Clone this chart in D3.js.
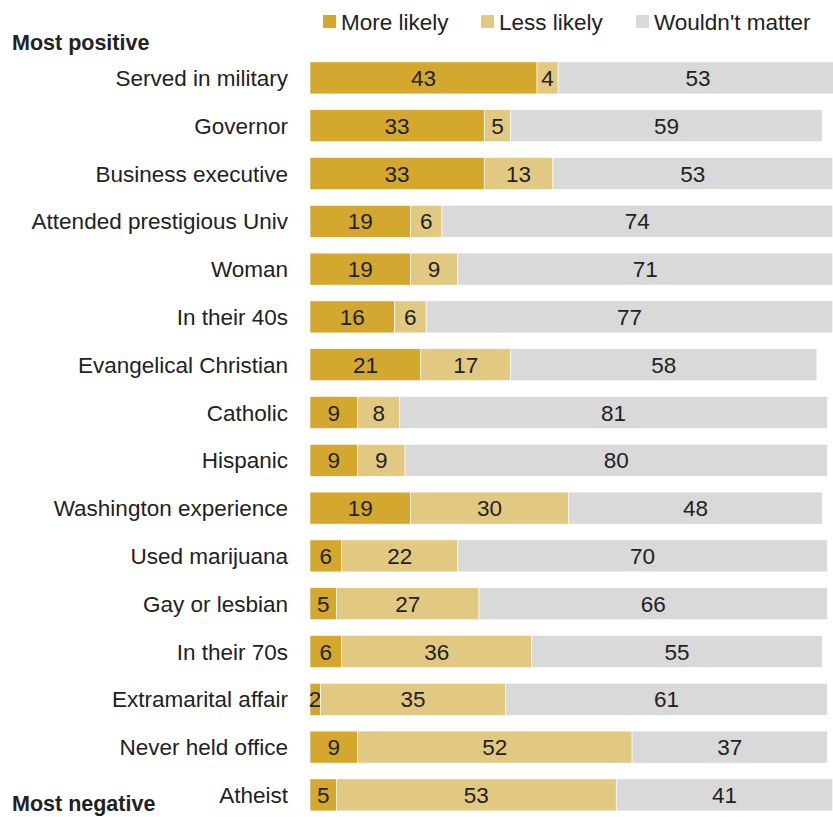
<!DOCTYPE html>
<html>
<head>
<meta charset="utf-8">
<script src="https://cdn.jsdelivr.net/npm/d3@7"></script>
<style>
  body { margin: 0; background: #fff; }
  svg text { font-family: "Liberation Sans", Arial, sans-serif; fill: #222; }
</style>
</head>
<body>
<svg id="chart" width="833" height="817"></svg>
<script>
const categories = [
    "Served in military", "Governor", "Business executive", "Attended prestigious Univ",
    "Woman", "In their 40s", "Evangelical Christian", "Catholic", "Hispanic",
    "Washington experience", "Used marijuana", "Gay or lesbian", "In their 70s",
    "Extramarital affair", "Never held office", "Atheist"
];
const moreLikely = [43, 33, 33, 19, 19, 16, 21, 9, 9, 19, 6, 5, 6, 2, 9, 5];
const lessLikely = [4, 5, 13, 6, 9, 6, 17, 8, 9, 30, 22, 27, 36, 35, 52, 53];
const wouldntMatter = [53, 59, 53, 74, 71, 77, 58, 81, 80, 48, 70, 66, 55, 61, 37, 41];
const seriesNames = ["More likely", "Less likely", "Wouldn't matter"];
const colors = ["#d4a72f", "#e2c982", "#d9d9d9"];

const svg = d3.select("#chart");
const margin = { left: 310, top: 54 };
const fontSize = 22.5;

// stack the three series
const rows = categories.map((c, i) => ({
    cat: c, more: moreLikely[i], less: lessLikely[i], none: wouldntMatter[i]
}));
const stack = d3.stack().keys(["more", "less", "none"]);
const layers = stack(rows);

const x = d3.scaleLinear().domain([0, 100]).range([margin.left, margin.left + 528]);
const y = d3.scaleBand().domain(categories)
    .range([margin.top, margin.top + 47.8 * categories.length])
    .paddingInner(0.33).paddingOuter(0.165);

// bars
const g = svg.append("g");
layers.forEach((layer, k) => {
    g.selectAll(null)
        .data(layer)
        .enter()
        .append("rect")
        .attr("x", d => x(d[0]))
        .attr("y", d => y(d.data.cat))
        .attr("width", d => x(d[1]) - x(d[0]))
        .attr("height", y.bandwidth())
        .attr("fill", colors[k])
        .attr("stroke", "#fff")
        .attr("stroke-width", 0.6);

    g.selectAll(null)
        .data(layer)
        .enter()
        .append("text")
        .attr("x", d => {
            const w = x(d[1]) - x(d[0]);
            return w < 14 ? x(d[0]) + 5 : (x(d[0]) + x(d[1])) / 2;
        })
        .attr("y", d => y(d.data.cat) + y.bandwidth() / 2)
        .attr("dy", "0.36em")
        .attr("text-anchor", "middle")
        .attr("font-size", fontSize)
        .text(d => d[1] - d[0]);
});

// category labels
svg.append("g").selectAll("text")
    .data(categories)
    .enter()
    .append("text")
    .attr("x", 288)
    .attr("y", d => y(d) + y.bandwidth() / 2)
    .attr("dy", "0.36em")
    .attr("text-anchor", "end")
    .attr("font-size", fontSize)
    .text(d => d);

// group titles
svg.append("text").attr("x", 12).attr("y", 50)
    .attr("font-size", 21.5).attr("font-weight", "bold").text("Most positive");
svg.append("text").attr("x", 12).attr("y", 811)
    .attr("font-size", 21.5).attr("font-weight", "bold").text("Most negative");

// legend
const legendX = [323, 481, 636];
const legend = svg.append("g").selectAll("g")
    .data(seriesNames)
    .enter()
    .append("g")
    .attr("transform", (d, i) => `translate(${legendX[i]},22)`);
legend.append("rect")
    .attr("x", 0).attr("y", -7)
    .attr("width", 13).attr("height", 13)
    .attr("fill", (d, i) => colors[i]);
legend.append("text")
    .attr("x", 18).attr("dy", "0.36em")
    .attr("font-size", fontSize)
    .text(d => d);
</script>
</body>
</html>
